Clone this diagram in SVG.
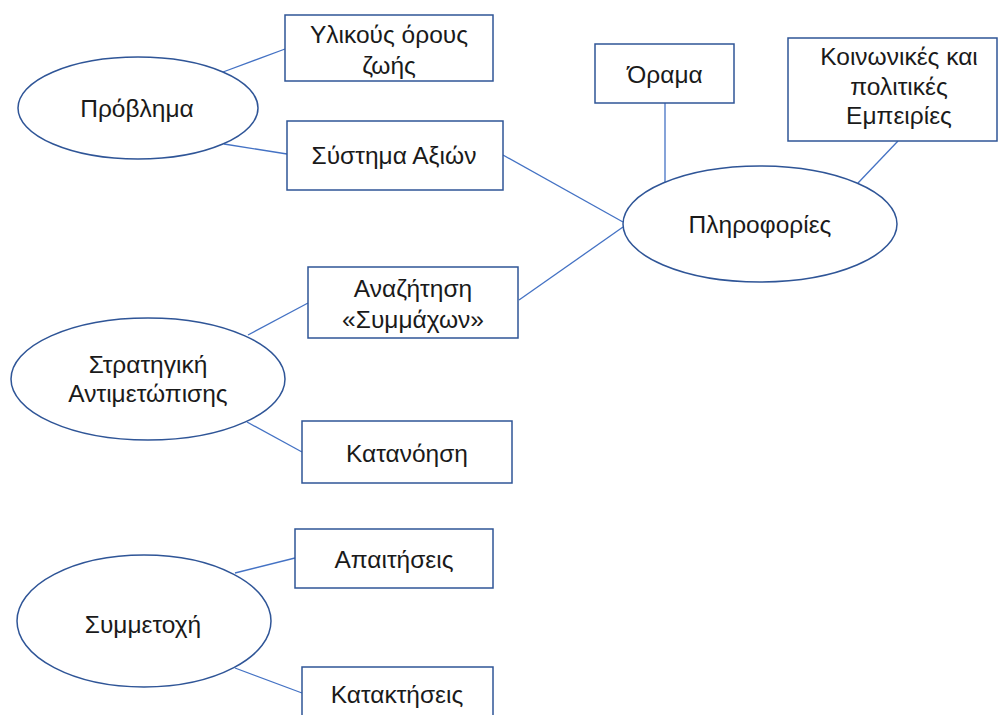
<svg xmlns="http://www.w3.org/2000/svg" width="999" height="715" viewBox="0 0 999 715">
<style>
.n{fill:#fff;stroke:#2F5597;stroke-width:1.5}
.c line{stroke:#4472C4;stroke-width:1.3}
text{font-family:"Liberation Sans","DejaVu Sans",sans-serif;font-size:24.5px;fill:#1a1a1a;text-anchor:middle}
</style>
<rect width="999" height="715" fill="#fff"/>
<g class="c" id="connectors">
<line x1="223" y1="72" x2="285" y2="49"/>
<line x1="224" y1="144" x2="287" y2="154"/>
<line x1="503" y1="155" x2="623" y2="222"/>
<line x1="519" y1="300" x2="623" y2="227"/>
<line x1="665" y1="103" x2="665" y2="182"/>
<line x1="898" y1="141" x2="858" y2="183"/>
<line x1="248" y1="335" x2="308" y2="303"/>
<line x1="247" y1="422" x2="302" y2="452"/>
<line x1="235" y1="573" x2="295" y2="558"/>
<line x1="235" y1="668" x2="302" y2="693"/>
</g>
<g id="problima"><ellipse class="n" cx="138" cy="108" rx="120" ry="51"/><text x="137" y="117">Πρόβλημα</text></g>
<g id="ylikous"><rect class="n" x="285" y="15" width="208" height="66"/><text x="389" y="43">Υλικούς όρους</text><text x="389" y="74">ζωής</text></g>
<g id="systima"><rect class="n" x="287" y="121" width="216" height="69"/><text x="394" y="164">Σύστημα Αξιών</text></g>
<g id="orama"><rect class="n" x="595" y="44" width="139" height="59"/><text x="665" y="83">Όραμα</text></g>
<g id="koinonikes"><rect class="n" x="788" y="38" width="209" height="103"/><text x="899" y="65">Κοινωνικές και</text><text x="899" y="95">πολιτικές</text><text x="899" y="124">Εμπειρίες</text></g>
<g id="plirofories"><ellipse class="n" cx="760" cy="224" rx="137" ry="58"/><text x="760" y="233">Πληροφορίες</text></g>
<g id="anazitisi"><rect class="n" x="308" y="267" width="210" height="71"/><text x="413" y="297">Αναζήτηση</text><text x="413" y="328">«Συμμάχων»</text></g>
<g id="stratigiki"><ellipse class="n" cx="148" cy="379" rx="137" ry="61"/><text x="148" y="373">Στρατηγική</text><text x="148" y="402">Αντιμετώπισης</text></g>
<g id="katanoisi"><rect class="n" x="302" y="421" width="210" height="62"/><text x="407" y="462">Κατανόηση</text></g>
<g id="apaitiseis"><rect class="n" x="295" y="529" width="198" height="59"/><text x="394" y="568">Απαιτήσεις</text></g>
<g id="symmetoxi"><ellipse class="n" cx="144" cy="621" rx="127" ry="66"/><text x="143" y="633">Συμμετοχή</text></g>
<g id="kataktiseis"><rect class="n" x="302" y="667" width="191" height="60"/><text x="397" y="703">Κατακτήσεις</text></g>
</svg>
